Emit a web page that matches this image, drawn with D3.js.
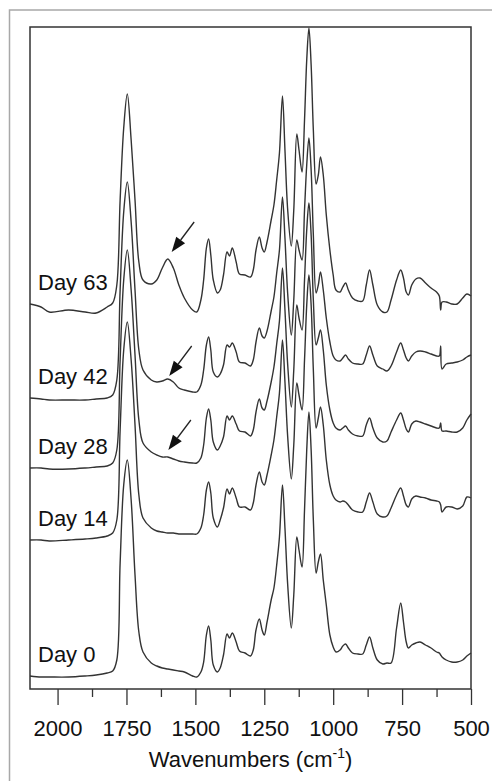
<!DOCTYPE html>
<html>
<head>
<meta charset="utf-8">
<script src="https://cdn.jsdelivr.net/npm/d3@7/dist/d3.min.js"></script>
<style>
  body { margin: 0; background: #fff; }
</style>
</head>
<body>
<div id="chart"></div>
<script>
// wavenumber grid (cm-1) shared by all spectra
var wavenumbers = [2100, 2060, 2030, 1960, 1900, 1860, 1820, 1800, 1785, 1773, 1760, 1747, 1733, 1719, 1705, 1690,
    1660, 1640, 1620, 1600, 1580, 1560, 1540, 1510, 1495, 1480, 1470, 1460, 1452, 1444, 1435, 1420,
    1410, 1398, 1385, 1376, 1366, 1352, 1340, 1320, 1300, 1290, 1280, 1268, 1258, 1250, 1240, 1225,
    1215, 1205, 1195, 1184, 1175, 1165, 1152, 1143, 1132, 1124, 1113, 1104, 1096, 1088, 1080, 1072,
    1062, 1054, 1046, 1036, 1025, 1012, 1000, 990, 975, 965, 955, 945, 930, 910, 893, 880,
    868, 856, 840, 820, 805, 790, 770, 755, 745, 735, 727, 715, 700, 685, 665, 645,
    625, 615, 610, 605, 590, 570, 550, 530, 515, 500];

// stacked absorbance, milli-units (offset spectra)
var day63 = [385, 382, 377, 379, 377, 376, 382, 386, 404, 489, 561, 595, 549, 489, 427, 409,
    405, 409, 421, 430, 421, 404, 391, 379, 377, 389, 409, 441, 450, 434, 409, 396,
    399, 414, 437, 433, 441, 427, 415, 414, 412, 419, 439, 452, 441, 437, 447, 469,
    484, 509, 536, 593, 539, 479, 443, 479, 555, 539, 517, 569, 629, 661, 624, 559,
    505, 514, 532, 514, 474, 439, 414, 399, 397, 402, 406, 399, 391, 388, 388, 404,
    419, 404, 384, 377, 377, 389, 409, 419, 411, 397, 394, 404, 410, 411, 406, 401,
    397, 393, 379, 387, 387, 385, 385, 391, 395, 393];

var day42 = [291, 290, 289, 289, 289, 290, 291, 294, 309, 399, 477, 507, 467, 399, 339, 319,
    309, 307, 308, 310, 307, 301, 299, 297, 297, 304, 319, 344, 352, 339, 317, 312,
    315, 324, 344, 342, 346, 337, 327, 326, 323, 329, 347, 361, 353, 351, 358, 378,
    392, 416, 439, 492, 451, 395, 354, 389, 449, 439, 429, 479, 524, 551, 519, 454,
    396, 404, 417, 399, 371, 347, 333, 329, 328, 331, 334, 330, 326, 325, 325, 334,
    343, 334, 323, 320, 318, 323, 337, 346, 339, 331, 328, 333, 337, 338, 337, 335,
    333, 333, 343, 320, 325, 326, 327, 329, 332, 334];

var day28 = [221, 221, 220, 220, 221, 222, 223, 226, 239, 329, 409, 439, 399, 334, 269, 246,
    237, 234, 232, 232, 230, 228, 227, 226, 226, 231, 244, 271, 280, 269, 247, 239,
    243, 252, 273, 269, 273, 265, 258, 257, 253, 259, 277, 290, 281, 279, 288, 307,
    322, 345, 368, 421, 379, 324, 282, 319, 384, 371, 359, 409, 459, 486, 454, 389,
    344, 351, 359, 339, 304, 279, 266, 261, 259, 261, 263, 259, 255, 253, 253, 264,
    271, 261, 251, 247, 248, 257, 269, 276, 269, 260, 257, 265, 268, 267, 265, 263,
    261, 261, 266, 258, 258, 257, 257, 261, 269, 275];

var day14 = [149, 149, 148, 149, 150, 151, 153, 156, 169, 259, 339, 367, 329, 264, 194, 171,
    161, 158, 157, 156, 156, 155, 155, 155, 155, 161, 174, 199, 207, 196, 171, 162,
    169, 181, 200, 195, 201, 191, 182, 182, 179, 186, 204, 217, 207, 204, 214, 234,
    249, 272, 296, 349, 307, 252, 210, 244, 306, 294, 279, 329, 384, 414, 384, 319,
    261, 271, 282, 264, 229, 204, 193, 189, 187, 188, 187, 184, 179, 177, 177, 187,
    196, 187, 175, 172, 173, 181, 194, 201, 193, 184, 182, 190, 193, 192, 191, 189,
    188, 187, 184, 177, 182, 182, 180, 183, 192, 191];

var day0 = [13, 12, 12, 12, 13, 14, 16, 18, 29, 126, 204, 229, 189, 114, 57, 37,
    26, 23, 21, 20, 19, 18, 17, 13, 12, 17, 27, 54, 63, 49, 24, 17,
    21, 34, 55, 51, 56, 47, 38, 36, 33, 39, 59, 70, 59, 54, 67, 89,
    101, 124, 152, 204, 161, 104, 61, 94, 152, 139, 122, 179, 239, 277, 239, 169,
    116, 127, 135, 109, 84, 54, 42, 37, 39, 43, 45, 41, 36, 35, 35, 44,
    52, 41, 29, 25, 26, 26, 61, 86, 67, 47, 41, 44, 46, 47, 44, 41,
    37, 36, 34, 32, 29, 27, 27, 29, 33, 36];

var seriesNames = ["Day 0", "Day 14", "Day 28", "Day 42", "Day 63"];
var seriesValues = [day0, day14, day28, day42, day63];

var xTicks = [2000, 1750, 1500, 1250, 1000, 750, 500];
var xMinorTicks = [1875, 1625, 1375, 1125, 875, 625];

// arrows marking the new band near 1600 cm-1 (tip position, data units)
var arrowWn = [1586, 1595, 1598];
var arrowAbs = [437, 313, 239];

(function(){
    var width = 492;
    var height = 781;

    var margin = {
        top: 27,
        bottom: 92,
        left: 30,
        right: 21
    };

    var svg = d3.select("#chart")
        .append("svg")
            .attr("width", width)
            .attr("height", height)
            .style("font-family", '"Liberation Sans", Arial, Helvetica, sans-serif');

    // outer figure border (runs off the right and bottom edges)
    svg.append("rect")
        .attr("x", 9.5)
        .attr("y", 10)
        .attr("width", width)
        .attr("height", height)
        .attr("fill", "none")
        .attr("stroke", "#a8a8a8")
        .attr("stroke-width", 1.5);

    var g = svg.append("g")
        .attr("transform", "translate(" + margin.left + "," + margin.top + ")");

    var w = width - margin.left - margin.right;
    var h = height - margin.top - margin.bottom;

    var xScale = d3.scaleLinear()
        .domain([2100, 500])
        .range([0, w]);

    var yScale = d3.scaleLinear()
        .domain([0, 662])
        .range([h, 0]);

    // minor ticks
    g.append("g")
        .attr("class", "x minor")
        .attr("transform", "translate(0," + h + ")")
        .call(d3.axisBottom(xScale).tickValues(xMinorTicks).tickSize(8).tickFormat(""))
        .call(function(a){ a.select(".domain").remove(); })
        .selectAll("line").attr("stroke", "#333").attr("stroke-width", 1.3);

    var xAxis = g.append("g")
        .attr("class", "x axis")
        .attr("transform", "translate(0," + h + ")")
        .call(d3.axisBottom(xScale).tickValues(xTicks).tickSize(16).tickFormat(d3.format("d")));

    xAxis.select(".domain").remove();
    xAxis.selectAll("line").attr("stroke", "#333").attr("stroke-width", 1.3);
    xAxis.selectAll("text")
        .attr("y", 47)
        .attr("dy", 0)
        .attr("font-size", "22px")
        .attr("font-family", '"Liberation Sans", Arial, sans-serif')
        .attr("fill", "#111");

    var title = g.append("text")
        .attr("x", w / 2)
        .attr("y", h + 78)
        .attr("text-anchor", "middle")
        .attr("font-size", "22px")
        .attr("fill", "#111");
    title.append("tspan").text("Wavenumbers (cm");
    title.append("tspan").attr("font-size", "14px").attr("dy", "-9").text("-1");
    title.append("tspan").attr("dy", "9").text(")");

    var line = d3.line()
        .x(function(d){ return xScale(d[0]); })
        .y(function(d){ return yScale(d[1]); })
        .curve(d3.curveCatmullRom.alpha(0.5));

    var spectra = seriesValues.map(function(vals, i){
        return {
            name: seriesNames[i],
            points: wavenumbers.map(function(wn, j){ return [wn, vals[j]]; })
        };
    });

    g.selectAll(".spectrum")
        .data(spectra)
        .enter()
        .append("path")
        .attr("class", "spectrum")
        .attr("d", function(d){ return line(d.points); })
        .attr("fill", "none")
        .attr("stroke", "#333")
        .attr("stroke-width", 1.4)
        .attr("stroke-linejoin", "round");

    // day labels sit just above the left end of each trace
    g.selectAll(".label")
        .data(spectra)
        .enter()
        .append("text")
        .attr("class", "label")
        .attr("x", 8)
        .attr("y", function(d){ return yScale(d.points[0][1]) - 14; })
        .attr("font-size", "22px")
        .attr("fill", "#111")
        .text(function(d){ return d.name; });

    // arrows
    var arrows = arrowWn.map(function(wn, i){ return {wn: wn, a: arrowAbs[i]}; });
    var vec = [22.5, -30];
    var len = Math.sqrt(vec[0] * vec[0] + vec[1] * vec[1]);
    var ux = vec[0] / len, uy = vec[1] / len;
    var headLen = 15, headHalf = 5.5;

    var arrowG = g.selectAll(".arrow")
        .data(arrows)
        .enter()
        .append("g")
        .attr("class", "arrow")
        .attr("transform", function(d){
            return "translate(" + xScale(d.wn) + "," + yScale(d.a) + ")";
        });

    arrowG.append("line")
        .attr("x1", ux * headLen)
        .attr("y1", uy * headLen)
        .attr("x2", vec[0])
        .attr("y2", vec[1])
        .attr("stroke", "#222")
        .attr("stroke-width", 1.3);

    arrowG.append("path")
        .attr("d", function(){
            var bx = ux * headLen, by = uy * headLen;
            var px = -uy * headHalf, py = ux * headHalf;
            return "M0,0 L" + (bx + px) + "," + (by + py) + " L" + (bx - px) + "," + (by - py) + " Z";
        })
        .attr("fill", "#111");

    // plot frame
    g.append("rect")
        .attr("x", 0)
        .attr("y", 0)
        .attr("width", w)
        .attr("height", h)
        .attr("fill", "none")
        .attr("stroke", "#333")
        .attr("stroke-width", 1.5);
})();
</script>
</body>
</html>
